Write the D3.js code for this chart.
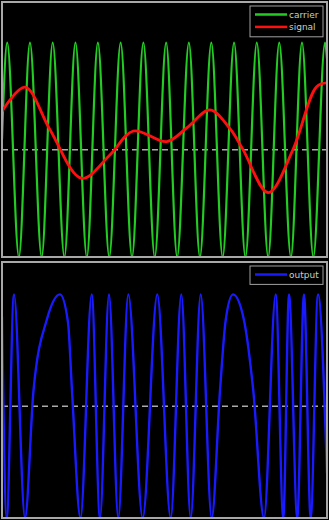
<!DOCTYPE html>
<html>
<head>
<meta charset="utf-8">
<script src="https://cdn.jsdelivr.net/npm/d3@7/dist/d3.min.js"></script>
<style>
  html, body { margin: 0; padding: 0; background: #000; }
  svg { display: block; }
</style>
</head>
<body>
<script>
// Time axis runs from 0 to 1 s in both panels.
// Carrier: times of its crests and troughs, plus its values at the two ends.
const carrierPeaks   = [0.016, 0.086, 0.156, 0.226, 0.295, 0.365, 0.435, 0.505, 0.575, 0.644, 0.714, 0.784, 0.853, 0.923, 0.994];
const carrierTroughs = [0.052, 0.122, 0.192, 0.261, 0.330, 0.400, 0.470, 0.539, 0.609, 0.679, 0.749, 0.819, 0.889, 0.958];
const carrierStart   = [0, 0.10];
const carrierEnd     = [1, 0.85];

// Modulating signal samples.
const signalT = [0, 0.071, 0.148, 0.245, 0.332, 0.404, 0.507, 0.568, 0.640, 0.702, 0.742, 0.819, 0.895, 0.968, 1.0];
const signalV = [0.36, 0.585, 0.186, -0.265, -0.048, 0.176, 0.077, 0.204, 0.373, 0.195, 0.0, -0.40, 0.0, 0.59, 0.625];

// Modulated output samples.
const outputT = [0, 0.0145, 0.0369, 0.0708, 0.0969, 0.1385, 0.1785, 0.2031, 0.2154, 0.2415,
                 0.276, 0.3015, 0.3292, 0.3578, 0.3886, 0.4329, 0.4778, 0.5191, 0.5517, 0.5806,
                 0.6114, 0.6452, 0.6708, 0.6883, 0.7108, 0.7446, 0.7732, 0.8062, 0.8422, 0.8655,
                 0.8831, 0.9086, 0.9292, 0.9498, 0.9723, 1.0];
const outputV = [0.8, -1, 1, -1, 0.14, 0.78, 1, 0.75, 0.14, -1,
                 1, -1, 1, -1, 1, -1, 1, -1, 1, -1,
                 1, -1, 0.14, 0.77, 1, 0.77, 0.14, -1, 1, -1,
                 1, -1, 1, -1, 1, -0.6];

const legendTop    = ["carrier", "signal"];
const legendBottom = ["output"];

const W = 329, H = 520;
const svg = d3.select("body").append("svg").attr("width", W).attr("height", H)
  .style("background", "#000");

const x = d3.scaleLinear().domain([0, 1]).range([2, 327]);
const yTop = d3.scaleLinear().domain([-1, 1.38]).range([257, 2]);
const yBot = d3.scaleLinear().domain([-1, 1.29]).range([518, 262]);

// Carrier points: merge crests (+1) and troughs (-1) in time order.
const carrier = [carrierStart]
  .concat(carrierPeaks.map(t => [t, 1]))
  .concat(carrierTroughs.map(t => [t, -1]))
  .concat([carrierEnd])
  .sort((a, b) => a[0] - b[0]);
const signal = signalT.map((t, i) => [t, signalV[i]]);
const output = outputT.map((t, i) => [t, outputV[i]]);

function panel(y, series, legend) {
  const g = svg.append("g");
  const [y0, y1] = y.range();
  const clipId = "clip" + Math.round(y1);
  g.append("clipPath").attr("id", clipId)
    .append("rect").attr("x", 2).attr("y", y1).attr("width", 325).attr("height", y0 - y1);

  // zero reference line
  g.append("line")
    .attr("x1", x(0)).attr("x2", x(1))
    .attr("y1", y(0)).attr("y2", y(0))
    .attr("stroke", "#aaaaaa").attr("stroke-width", 1.5)
    .attr("stroke-dasharray", "6,4");

  const plot = g.append("g").attr("clip-path", `url(#${clipId})`);
  series.forEach(s => {
    plot.append("path")
      .datum(s.data)
      .attr("fill", "none")
      .attr("stroke", s.color)
      .attr("stroke-width", s.width)
      .attr("stroke-linejoin", "round")
      .attr("d", d3.line().x(d => x(d[0])).y(d => y(d[1])).curve(s.curve));
  });

  // frame
  g.append("rect")
    .attr("x", 2).attr("y", y1).attr("width", 325).attr("height", y0 - y1)
    .attr("fill", "none").attr("stroke", "#a8a8a8").attr("stroke-width", 2);

  // legend
  const lg = g.append("g").attr("transform", `translate(250,${y1 + 4})`);
  const rowH = 12.4;
  lg.append("rect")
    .attr("x", 0).attr("y", 0).attr("width", 73)
    .attr("height", 6 + legend.length * rowH)
    .attr("fill", "#000").attr("stroke", "#a0a0a0").attr("stroke-width", 1);
  legend.forEach((name, i) => {
    const cy = 8.5 + i * rowH;
    lg.append("line")
      .attr("x1", 5).attr("x2", 37).attr("y1", cy).attr("y2", cy)
      .attr("stroke", series[i].color).attr("stroke-width", 2.5);
    lg.append("text")
      .attr("x", 39).attr("y", cy + 3.3)
      .attr("font-family", "DejaVu Sans, sans-serif")
      .attr("font-size", 9)
      .attr("fill", "#c4d0c4")
      .text(name);
  });
}

panel(yTop, [
  { data: carrier, color: "#22cc22", width: 2.2, curve: d3.curveMonotoneX },
  { data: signal,  color: "#ff1010", width: 2.8, curve: d3.curveCatmullRom.alpha(0.5) }
], legendTop);

panel(yBot, [
  { data: output, color: "#1a1aff", width: 2.4, curve: d3.curveMonotoneX }
], legendBottom);
</script>
</body>
</html>
